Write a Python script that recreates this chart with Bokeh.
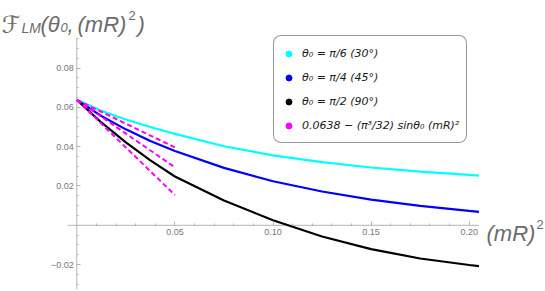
from bokeh.plotting import figure
from bokeh.models import Range1d, FixedTicker, Label, Legend, LegendItem, LinearAxis
from bokeh.embed import file_html
from bokeh.resources import INLINE

# ---------------- data ----------------
mr2 = [0.0, 0.0125, 0.025, 0.0375, 0.05, 0.075, 0.10, 0.125, 0.15, 0.175, 0.20, 0.205]
f_30 = [0.0638, 0.0582, 0.0538, 0.0500, 0.0465, 0.0402, 0.0356, 0.0321, 0.0294, 0.0273, 0.0256, 0.0253]
f_45 = [0.0638, 0.0556, 0.0488, 0.0429, 0.0378, 0.0292, 0.0224, 0.0172, 0.0131, 0.0099, 0.0073, 0.0068]
f_90 = [0.0638, 0.0523, 0.0422, 0.0330, 0.0248, 0.0126, 0.0026, -0.0057, -0.0121, -0.0169, -0.0202, -0.0208]

approx_x = [0.0, 0.05]
approx_30 = [0.0638, 0.0396]
approx_45 = [0.0638, 0.0295]
approx_90 = [0.0638, 0.0154]

x_ticks = [0.05, 0.10, 0.15, 0.20]
x_tick_labels = ["0.05", "0.10", "0.15", "0.20"]
y_ticks = [-0.02, 0.02, 0.04, 0.06, 0.08]
y_tick_labels = ["\u22120.02", "0.02", "0.04", "0.06", "0.08"]

legend_labels = [
    "\u03b8\u2080 = \u03c0/6 (30\u00b0)",
    "\u03b8\u2080 = \u03c0/4 (45\u00b0)",
    "\u03b8\u2080 = \u03c0/2 (90\u00b0)",
    "0.0638 \u2212 (\u03c0\u00b3/32) sin\u03b8\u2080 (mR)\u00b2",
]
title_parts = ["\u2131", "LM", "(\u03b8", "0", ",", "(mR)", "2", ")"]
xlabel_parts = ["(mR)", "2"]

# axis extents (where Mathematica draws the axis lines)
x_axis_extent = [-0.0047, 0.2050]
y_axis_extent = [-0.0325, 0.0954]

# ---------------- figure ----------------
W, H = 545, 291
p = figure(width=W, height=H,
           x_range=Range1d(-0.03889, 0.23889), y_range=Range1d(-0.03367, 0.11434),
           output_backend="svg", toolbar_location=None,
           x_axis_type=None, y_axis_type=None,
           min_border_left=0, min_border_right=0, min_border_top=0, min_border_bottom=0)
p.outline_line_color = None
p.background_fill_color = "white"
p.border_fill_color = "white"

axis_color = "#b5b5b5"
tick_font = "Liberation Sans"
tick_color = "#777777"

# axis lines
p.line(x_axis_extent, [0, 0], line_color=axis_color, line_width=1)
p.line([0, 0], y_axis_extent, line_color=axis_color, line_width=1)

x_minor = [round(0.01 * i, 4) for i in range(1, 21)]
y_minor = [round(-0.03 + 0.005 * i, 4) for i in range(0, 26)]

xa = LinearAxis(fixed_location=0,
                ticker=FixedTicker(ticks=x_ticks, minor_ticks=x_minor),
                major_label_overrides=dict(zip(x_ticks, x_tick_labels)))
ya = LinearAxis(fixed_location=0,
                ticker=FixedTicker(ticks=y_ticks, minor_ticks=y_minor),
                major_label_overrides=dict(zip(y_ticks, y_tick_labels)))
for ax, standoff in ((xa, 4), (ya, 3)):
    ax.axis_line_color = None
    ax.major_tick_line_color = axis_color
    ax.minor_tick_line_color = axis_color
    ax.major_tick_in = 4
    ax.major_tick_out = 0
    ax.minor_tick_in = 2
    ax.minor_tick_out = 0
    ax.major_label_standoff = standoff
    ax.major_label_text_font = tick_font
    ax.major_label_text_font_size = "9px"
    ax.major_label_text_color = tick_color
p.add_layout(xa, "below")
p.add_layout(ya, "left")

# curves
p.line(mr2, f_30, line_color="#00ffff", line_width=2.2)
p.line(mr2, f_45, line_color="#0000ff", line_width=2.2)
p.line(mr2, f_90, line_color="#000000", line_width=2.2)
# small-(mR)^2 approximations
for ys in (approx_30, approx_45, approx_90):
    p.line(approx_x, ys, line_color="#ff00ff", line_width=2, line_dash="5 3")

# legend dots (renderers only used for the legend)
dot_cyan = p.scatter(mr2[:1], f_30[:1], size=6, color="#00ffff", visible=False)
dot_blue = p.scatter(mr2[:1], f_45[:1], size=6, color="#0000ff", visible=False)
dot_black = p.scatter(mr2[:1], f_90[:1], size=6, color="#000000", visible=False)
dot_mag = p.scatter(approx_x[:1], approx_90[:1], size=6, color="#ff00ff", visible=False)
dots = [dot_cyan, dot_blue, dot_black, dot_mag]

legend = Legend(items=[LegendItem(label=lab, renderers=[r]) for lab, r in zip(legend_labels, dots)],
                location=(273, 148), orientation="vertical",
                padding=7, spacing=4, margin=0,
                glyph_width=15, glyph_height=15, label_height=20, label_standoff=6,
                label_text_font="DejaVu Sans", label_text_font_style="italic",
                label_text_font_size="11px", label_text_color="#1a1a1a",
                border_line_color="#333333", border_line_width=1,
                background_fill_color="white", background_fill_alpha=1.0)
if "border_radius" in Legend.properties():
    legend.border_radius = 8
p.add_layout(legend)

# ---------------- axis titles (screen units, frame == canvas) ----------------
label_color = "#6b6b6b"

def put(text, x_img, y_img, size, style="italic", font="Liberation Sans"):
    p.add_layout(Label(x=x_img, y=H - y_img, x_units="screen", y_units="screen",
                       text=text, text_font=font, text_font_size=f"{size}px",
                       text_font_style=style, text_color=label_color,
                       text_baseline="alphabetic", text_align="left"))

title_pos = [(1, 24, 24, "normal", "DejaVu Sans"), (21, 27, 14, "italic", "Liberation Sans"),
             (40, 24, 22, "italic", "Liberation Sans"), (60, 27, 13, "italic", "Liberation Sans"),
             (67, 24, 22, "italic", "Liberation Sans"), (77, 24, 22, "italic", "Liberation Sans"),
             (128, 15, 13, "normal", "Liberation Sans"), (137, 24, 22, "italic", "Liberation Sans")]
for t, (xi, yi, s, st, fn) in zip(title_parts, title_pos):
    put(t, xi, yi, s, st, fn)

put(xlabel_parts[0], 486, 233, 22, "italic")
put(xlabel_parts[1], 536, 224, 13, "normal")

open("out.html", "w").write(file_html(p, INLINE))
